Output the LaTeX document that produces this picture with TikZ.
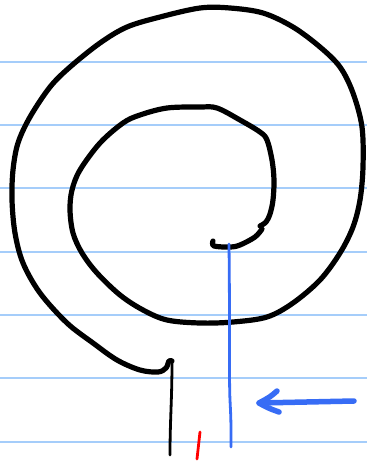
\documentclass[tikz,border=0pt]{standalone}
\begin{document}
\begin{tikzpicture}[x=1pt,y=-1pt,
  rule/.style={draw=ruleblue,line width=1.9pt},
  ink/.style={draw=black,line width=5.2pt,line cap=round,line join=round},
  thinink/.style={draw=black,line width=2.8pt,line cap=round,line join=round},
  blueink/.style={draw=penblue,line width=2.8pt,line cap=round,line join=round},
  arrowink/.style={draw=penblue,line width=5.5pt,line cap=round,line join=round},
  redink/.style={draw=red,line width=2.8pt,line cap=round}]
\definecolor{ruleblue}{RGB}{165,205,250}
\definecolor{penblue}{RGB}{55,108,245}
\useasboundingbox (0,0) rectangle (367,461);
\foreach \y in {61.7,125,188.3,251.7,315,378.3,441.7}
  \draw[rule] (0,\y) -- (367,\y);
% spiral
\draw[ink] plot[smooth,tension=0.55] coordinates {
 (213,241) (214,246) (230,247) (240,245) (255,237) (262,229)};
\draw[ink] plot[smooth,tension=0.55] coordinates {
 (260,226) (266,222) (270,214) (273,200) (274,180) (272,160) (267,140) (260,132)
 (240,120) (217,108) (200,107) (167,108) (140,115) (123,123) (100,143)
 (80,170) (72,190) (70,210) (73,233) (82,253) (97,273) (120,295) (143,310)
 (167,320) (200,323) (233,322) (267,317) (293,303) (320,280) (340,253)
 (353,227) (360,200) (363,167) (362,127) (353,93) (340,67) (320,47)
 (293,27) (263,13) (230,8) (200,8) (160,17) (127,27) (100,43) (70,67)
 (50,87) (30,117) (18,143) (13,170) (12,200) (15,233) (23,263) (40,293)
 (67,323) (93,343) (117,360) (140,370) (158,372) (166,368) (169,361) (172,361)};
\coordinate (stemtop) at (172,361);
\coordinate (stembot) at (170,455);
\draw[thinink] (stemtop) .. controls (172,400) and (170,420) .. (stembot);
% blue line
\coordinate (btop) at (229,244);
\coordinate (bbot) at (231,447);
\draw[blueink] (btop) .. controls (230,330) and (229,380) .. (230,400) .. controls (231,420) .. (bbot);
% arrow
\coordinate (atail) at (354,401);
\coordinate (atip) at (259,403);
\draw[arrowink] (atail) -- (atip);
\draw[arrowink] (277,391) .. controls (270,397) .. (atip) .. controls (268,408) .. (279,412);
% red tick
\coordinate (rtop) at (200,432);
\coordinate (rbot) at (197,459);
\draw[redink] (rtop) -- (rbot);
\end{tikzpicture}
\end{document}
